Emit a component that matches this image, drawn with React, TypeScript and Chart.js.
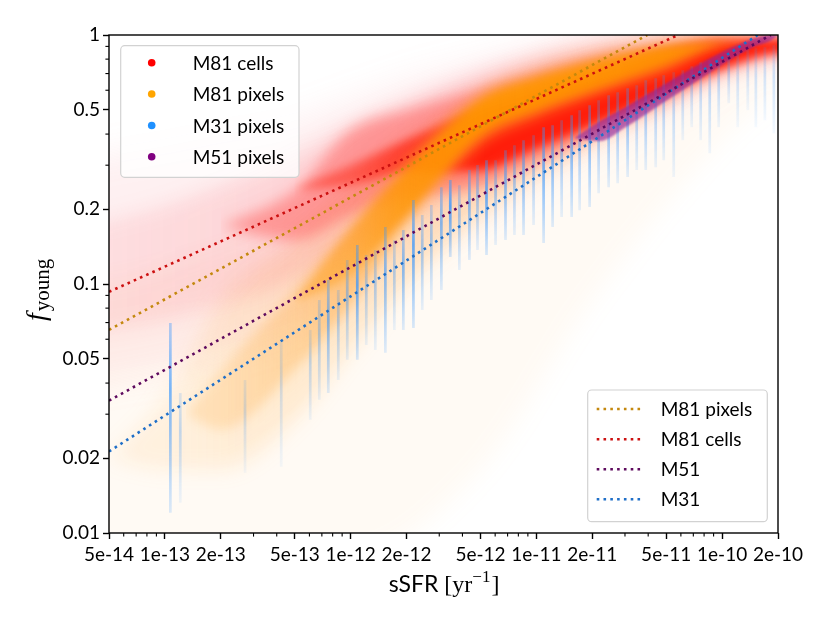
import React, { useEffect, useRef } from 'react';
import { Chart, registerables } from 'chart.js';

// ---------- axes ----------
const X_TICKS = [5e-14, 1e-13, 2e-13, 5e-13, 1e-12, 2e-12, 5e-12, 1e-11, 2e-11, 5e-11, 1e-10, 2e-10];
const X_TICK_LABELS = ['5e-14', '1e-13', '2e-13', '5e-13', '1e-12', '2e-12', '5e-12', '1e-11', '2e-11', '5e-11', '1e-10', '2e-10'];
const X_MINOR = [6e-14, 7e-14, 8e-14, 9e-14, 3e-13, 4e-13, 6e-13, 7e-13, 8e-13, 9e-13, 3e-12, 4e-12, 6e-12, 7e-12, 8e-12, 9e-12, 3e-11, 4e-11, 6e-11, 7e-11, 8e-11, 9e-11];
const Y_TICKS = [0.01, 0.02, 0.05, 0.1, 0.2, 0.5, 1];
const Y_TICK_LABELS = ['0.01', '0.02', '0.05', '0.1', '0.2', '0.5', '1'];
const Y_MINOR = [0.03, 0.04, 0.06, 0.07, 0.08, 0.09, 0.3, 0.4, 0.6, 0.7, 0.8, 0.9];

// ---------- fitted power laws (end points) ----------
const FIT_M81_PIXELS_X = [5e-14, 3.95e-11];
const FIT_M81_PIXELS_Y = [0.0654, 1];
const FIT_M81_CELLS_X = [5e-14, 5.8e-11];
const FIT_M81_CELLS_Y = [0.093, 1];
const FIT_M51_X = [5e-14, 1.83e-10];
const FIT_M51_Y = [0.034, 1];
const FIT_M31_X = [5e-14, 1.556e-10];
const FIT_M31_Y = [0.02125, 1];

// ---------- M81 cells density envelopes ----------
const CELLS_HALO_X = [3e-14, 5e-14, 1e-13, 2e-13, 5e-13, 1e-12, 2e-12, 5e-12, 1e-11, 2e-11, 5e-11, 1e-10, 2e-10, 3e-10];
const CELLS_HALO_HI = [0.3, 0.33, 0.36, 0.4, 0.455, 0.547, 0.658, 0.79, 0.909, 1.1, 1.2, 1.2, 1.2, 1.2];
const CELLS_HALO_LO = [0.038, 0.0412, 0.0452, 0.0519, 0.0654, 0.0863, 0.125, 0.189, 0.261, 0.345, 0.499, 0.658, 0.792, 0.8];
const CELLS_MID_X = [3e-14, 5e-14, 1e-13, 2e-13, 5e-13, 1e-12, 2e-12, 5e-12, 1e-11, 2e-11, 5e-11, 1e-10, 2e-10, 3e-10];
const CELLS_MID_HI = [0.17, 0.181, 0.2075, 0.2495, 0.33, 0.43, 0.54, 0.7, 0.81, 0.9, 0.97, 1.0, 1.0, 1.0];
const CELLS_MID_LO = [0.062, 0.0654, 0.0717, 0.0824, 0.104, 0.137, 0.189, 0.2495, 0.314, 0.396, 0.547, 0.708, 0.829, 0.85];
const CELLS_INNER_X = [2e-13, 5e-13, 1e-12, 2e-12, 5e-12, 1e-11, 2e-11, 5e-11, 1e-10, 2e-10, 3e-10];
const CELLS_INNER_HI = [0.17, 0.238, 0.415, 0.499, 0.6, 0.689, 0.792, 0.909, 0.97, 0.97, 0.97];
const CELLS_INNER_LO = [0.17, 0.15, 0.189, 0.2275, 0.2495, 0.314, 0.396, 0.547, 0.708, 0.829, 0.84];
const CELLS_CORE_X = [5e-13, 1e-12, 2e-12, 5e-12, 1e-11, 2e-11, 5e-11, 1e-10, 2e-10, 3e-10];
const CELLS_CORE_HI = [0.24, 0.3, 0.38, 0.499, 0.589, 0.689, 0.852, 0.952, 0.96, 0.96];
const CELLS_CORE_LO = [0.24, 0.25, 0.28, 0.287, 0.351, 0.434, 0.589, 0.735, 0.852, 0.86];

// ---------- M81 pixels density envelopes ----------
const PIX_WASH_X = [3e-14, 5e-14, 2e-13, 1e-12, 5e-12, 2e-11, 1e-10, 2e-10];
const PIX_WASH_HI = [0.1, 0.104, 0.137, 0.217, 0.455, 0.792, 0.988, 0.99];
const PIX_WASH_LO = [0.008, 0.008, 0.008, 0.008, 0.018, 0.0863, 0.378, 0.6];
const PIX_FAINT_X = [5e-14, 1e-13, 2e-13, 5e-13, 1e-12, 2e-12, 5e-12, 1e-11, 2e-11, 5e-11, 1e-10, 2e-10];
const PIX_FAINT_HI = [0.02, 0.035, 0.0863, 0.15, 0.2495, 0.378, 0.6, 0.756, 0.868, 0.97, 0.988, 0.99];
const PIX_FAINT_LO = [0.02, 0.018, 0.018, 0.0285, 0.0543, 0.0991, 0.189, 0.274, 0.378, 0.573, 0.777, 0.95];
const PIX_MID_X = [1.3e-13, 2e-13, 5e-13, 1e-12, 2e-12, 5e-12, 1e-11, 2e-11, 5e-11, 1e-10, 2e-10];
const PIX_MID_HI = [0.03, 0.045, 0.0946, 0.172, 0.314, 0.589, 0.708, 0.814, 0.926, 0.97, 0.97];
const PIX_MID_LO = [0.03, 0.026, 0.0452, 0.0824, 0.172, 0.361, 0.463, 0.5625, 0.708, 0.9, 0.97];
const PIX_CORE_X = [5e-13, 1e-12, 2e-12, 5e-12, 1e-11, 2e-11, 5e-11, 1e-10, 2e-10];
const PIX_CORE_HI = [0.085, 0.165, 0.287, 0.547, 0.67, 0.777, 0.9, 0.94, 0.96];
const PIX_CORE_LO = [0.085, 0.109, 0.189, 0.396, 0.499, 0.6, 0.76, 0.92, 0.96];

// ---------- M51 pixels ----------
const M51_X = [1.6e-11, 2.2e-11, 3e-11, 5e-11, 7e-11, 1e-10, 1.5e-10, 1.8e-10, 2e-10];
const M51_HI = [0.385, 0.45, 0.512, 0.64, 0.74, 0.855, 0.97, 1.0, 1.0];
const M51_LO = [0.385, 0.375, 0.425, 0.545, 0.64, 0.76, 0.9, 0.943, 1.0];

// ---------- M31 pixels: vertical streaks ----------
const M31_STREAK_X = [1.07e-13, 1.21e-13, 2.7e-13, 4.23e-13, 6.06e-13, 6.78e-13, 7.58e-13, 8.58e-13, 9.59e-13, 1.086e-12,
  1.214e-12, 1.358e-12, 1.538e-12, 1.719e-12, 1.922e-12, 2.178e-12, 2.43e-12, 2.72e-12, 3.08e-12, 3.44e-12,
  3.85e-12, 4.36e-12, 4.82e-12, 5.39e-12, 6.03e-12, 6.82e-12, 7.62e-12, 8.53e-12, 9.66e-12, 1.094e-11,
  1.223e-11, 1.368e-11, 1.549e-11, 1.71e-11, 1.936e-11, 2.164e-11, 2.45e-11, 2.74e-11, 3.1e-11, 3.47e-11,
  3.88e-11, 4.39e-11, 4.85e-11, 5.49e-11, 6.14e-11, 6.86e-11, 7.67e-11, 8.58e-11, 9.59e-11, 1.086e-10,
  1.214e-10, 1.375e-10, 1.52e-10, 1.7e-10, 1.9e-10];
const M31_STREAK_TOP = [0.0698, 0.0365, 0.0412, 0.0596, 0.0654, 0.0863, 0.1038, 0.0946, 0.1249, 0.1433,
  0.1307, 0.1369, 0.1693, 0.1501, 0.1646, 0.2173, 0.1891, 0.2075, 0.2449, 0.2614,
  0.2495, 0.2867, 0.3002, 0.3144, 0.3144, 0.3448, 0.3611, 0.3782, 0.396, 0.4264,
  0.4344, 0.4549, 0.4764, 0.4989, 0.5224, 0.547, 0.5729, 0.5889, 0.611, 0.6283,
  0.6579, 0.6701, 0.689, 0.7084, 0.7216, 0.749, 0.777, 0.7916, 0.806, 0.829,
  0.852, 0.868, 0.884, 0.893, 0.909];
const M31_STREAK_BOTTOM = [0.01205, 0.01324, 0.01746, 0.01845, 0.0285, 0.0343, 0.0365, 0.0412, 0.0496, 0.0496,
  0.0569, 0.0543, 0.0529, 0.0654, 0.0654, 0.0666, 0.0787, 0.0863, 0.0946, 0.1283,
  0.1138, 0.1249, 0.1369, 0.1307, 0.1433, 0.1501, 0.1572, 0.1572, 0.1724, 0.146,
  0.1693, 0.1856, 0.1856, 0.198, 0.2036, 0.2317, 0.2449, 0.2541, 0.2687, 0.2867,
  0.2867, 0.2946, 0.3144, 0.2687, 0.3782, 0.4264, 0.3782, 0.3353, 0.4264, 0.532,
  0.4264, 0.4989, 0.4264, 0.455, 0.4035];
const M31_STREAK_WEIGHT = [0.45, 0.2, 0.15, 0.15, 0.2, 0.25, 0.4, 0.25, 0.3, 0.5,
  0.25, 0.25, 0.4, 0.25, 0.4, 0.5, 0.3, 0.3, 0.4, 0.55,
  0.3, 0.4, 0.3, 0.5, 0.3, 0.4, 0.3, 0.4, 0.3, 0.45,
  0.4, 0.3, 0.4, 0.3, 0.4, 0.3, 0.35, 0.3, 0.35, 0.25,
  0.3, 0.25, 0.25, 0.2, 0.2, 0.2, 0.2, 0.2, 0.2, 0.2,
  0.15, 0.15, 0.15, 0.15, 0.15];

// ---------- legends ----------
const SCATTER_LABELS = ['M81 cells', 'M81 pixels', 'M31 pixels', 'M51 pixels'];
const SCATTER_COLORS = ['#ff0000', '#ffa500', '#1e90ff', '#800080'];
const FIT_LABELS = ['M81 pixels', 'M81 cells', 'M51', 'M31'];
const FIT_COLORS = ['#c4880e', '#cc1010', '#5e0a5e', '#1f6fc8'];

const blurPlugin = {
  id: 'bandBlur',
  beforeDatasetDraw(chart: any, args: any) {
    const ds = chart.data.datasets[args.index];
    if (ds && ds.blurPx) {
      chart.ctx.save();
      chart.ctx.filter = `blur(${ds.blurPx}px)`;
    }
  },
  afterDatasetDraw(chart: any, args: any) {
    const ds = chart.data.datasets[args.index];
    if (ds && ds.blurPx) chart.ctx.restore();
  },
};
Chart.register(blurPlugin);
Chart.register(...registerables);

const SANS = 'Lato, "DejaVu Sans", sans-serif';
const SERIF = '"Liberation Serif", "DejaVu Serif", serif';

const chromePlugin = {
  id: 'chrome',
  afterDraw(chart: any) {
    const { ctx, chartArea: a, scales } = chart;
    ctx.save();
    ctx.filter = 'none';
    ctx.strokeStyle = '#000';
    ctx.lineWidth = 1.4;
    ctx.strokeRect(a.left, a.top, a.right - a.left, a.bottom - a.top);
    ctx.lineWidth = 1.1;
    X_MINOR.forEach((v) => {
      const px = scales.x.getPixelForValue(v);
      ctx.beginPath();
      ctx.moveTo(px, a.bottom);
      ctx.lineTo(px, a.bottom + 3.6);
      ctx.stroke();
    });
    Y_MINOR.forEach((v) => {
      const py = scales.y.getPixelForValue(v);
      ctx.beginPath();
      ctx.moveTo(a.left, py);
      ctx.lineTo(a.left - 3.6, py);
      ctx.stroke();
    });

    const box = (x0: number, y0: number, x1: number, y1: number) => {
      ctx.beginPath();
      ctx.roundRect(x0, y0, x1 - x0, y1 - y0, 4);
      ctx.fillStyle = 'rgba(255,255,255,0.8)';
      ctx.fill();
      ctx.strokeStyle = '#d2d2d2';
      ctx.lineWidth = 1.2;
      ctx.stroke();
    };
    box(120.7, 45.7, 299, 177.3);
    const rows1 = [62.7, 94, 125.5, 156.7];
    ctx.font = `19px ${SANS}`;
    ctx.textBaseline = 'middle';
    ctx.textAlign = 'left';
    SCATTER_LABELS.forEach((lab, i) => {
      ctx.fillStyle = SCATTER_COLORS[i];
      ctx.beginPath();
      ctx.arc(151.7, rows1[i], 3.8, 0, Math.PI * 2);
      ctx.fill();
      ctx.fillStyle = '#000';
      ctx.fillText(lab, 192.7, rows1[i] + 1);
    });
    box(587.7, 390, 767.3, 521.7);
    const rows2 = [409, 439.3, 469.3, 499.3];
    FIT_LABELS.forEach((lab, i) => {
      ctx.strokeStyle = FIT_COLORS[i];
      ctx.lineWidth = 2.6;
      ctx.setLineDash([2.6, 4.2]);
      ctx.beginPath();
      ctx.moveTo(596.7, rows2[i]);
      ctx.lineTo(641, rows2[i]);
      ctx.stroke();
      ctx.setLineDash([]);
      ctx.fillStyle = '#000';
      ctx.fillText(lab, 660.7, rows2[i] + 1);
    });

    ctx.textBaseline = 'alphabetic';
    const p1 = 'sSFR ';
    const p2 = '[yr';
    const p3 = '\u22121';
    const p4 = ']';
    ctx.font = `23px ${SANS}`;
    const w1 = ctx.measureText(p1).width;
    ctx.font = `24px ${SERIF}`;
    const w2 = ctx.measureText(p2).width;
    const w4 = ctx.measureText(p4).width;
    ctx.font = `17px ${SERIF}`;
    const w3 = ctx.measureText(p3).width;
    const total = w1 + w2 + w3 + w4 + 1;
    let x = (a.left + a.right) / 2 + 0.5 - total / 2;
    const base = 592;
    ctx.fillStyle = '#000';
    ctx.font = `23px ${SANS}`;
    ctx.fillText(p1, x, base);
    x += w1;
    ctx.font = `24px ${SERIF}`;
    ctx.fillText(p2, x, base);
    x += w2;
    ctx.font = `17px ${SERIF}`;
    ctx.fillText(p3, x, base - 10);
    x += w3 + 1;
    ctx.font = `24px ${SERIF}`;
    ctx.fillText(p4, x, base);

    ctx.save();
    ctx.translate(45, 321);
    ctx.rotate(-Math.PI / 2);
    ctx.font = `italic 28px ${SERIF}`;
    ctx.fillText('f', 0, 0);
    const wf = ctx.measureText('f').width;
    ctx.font = `21px ${SERIF}`;
    ctx.fillText('young', wf + 2, 4);
    ctx.restore();

    ctx.restore();
  },
};

// horizontal opacity ramp for a band fill (style only)
const ramp = (rgb: string, stops: [number, number][]) => (c: any) => {
  const chart = c.chart;
  const a = chart.chartArea;
  const sx = chart.scales && chart.scales.x;
  if (!a || !sx) return `rgba(${rgb},${stops[0][1]})`;
  const g = chart.ctx.createLinearGradient(a.left, 0, a.right, 0);
  stops.forEach(([v, al]) => {
    const t = (sx.getPixelForValue(v) - a.left) / (a.right - a.left);
    g.addColorStop(Math.min(1, Math.max(0, t)), `rgba(${rgb},${al})`);
  });
  return g;
};

function buildDatasets() {
  const list: any[] = [];
  const band = (label: string, xs: number[], hi: number[], lo: number[], color: any, blur: number) => {
    list.push({
      label,
      data: xs.map((x, i) => ({ x, y: hi[i] })),
      borderWidth: 0,
      borderColor: 'rgba(0,0,0,0)',
      pointRadius: 0,
      fill: '+1',
      backgroundColor: color,
      cubicInterpolationMode: 'monotone',
      blurPx: blur,
    });
    list.push({
      label: label + ' lower',
      data: xs.map((x, i) => ({ x, y: lo[i] })),
      borderWidth: 0,
      borderColor: 'rgba(0,0,0,0)',
      pointRadius: 0,
      fill: false,
      cubicInterpolationMode: 'monotone',
    });
  };
  band('M81 pixels sparse', PIX_WASH_X, PIX_WASH_HI, PIX_WASH_LO, 'rgba(255,185,100,0.07)', 12);
  band('M81 cells halo', CELLS_HALO_X, CELLS_HALO_HI, CELLS_HALO_LO, 'rgba(245,120,130,0.11)', 16);
  band('M81 pixels faint', PIX_FAINT_X, PIX_FAINT_HI, PIX_FAINT_LO,
    ramp('255,170,60', [[1e-13, 0.12], [1e-12, 0.22], [1e-11, 0.3]]), 10);
  band('M81 cells mid', CELLS_MID_X, CELLS_MID_HI, CELLS_MID_LO,
    ramp('250,85,95', [[5e-14, 0.12], [1e-12, 0.2], [1e-11, 0.3]]), 10);
  band('M81 cells inner', CELLS_INNER_X, CELLS_INNER_HI, CELLS_INNER_LO, 'rgba(255,60,55,0.4)', 7);
  band('M81 cells core', CELLS_CORE_X, CELLS_CORE_HI, CELLS_CORE_LO,
    ramp('255,20,0', [[1e-12, 0.45], [5e-12, 0.9], [2e-10, 0.9]]), 5);
  band('M81 pixels mid', PIX_MID_X, PIX_MID_HI, PIX_MID_LO,
    ramp('255,160,40', [[2e-13, 0.2], [5e-13, 0.3], [2e-12, 0.55], [5e-11, 0.5], [2e-10, 0.3]]), 6);
  band('M81 pixels core', PIX_CORE_X, PIX_CORE_HI, PIX_CORE_LO,
    ramp('255,150,0', [[1e-12, 0.4], [2e-12, 0.75], [5e-12, 0.9], [5e-11, 0.85], [2e-10, 0.5]]), 4);

  const streakData: any[] = [];
  M31_STREAK_X.forEach((x, i) => {
    streakData.push({ x, y: M31_STREAK_TOP[i] });
    streakData.push({ x, y: M31_STREAK_BOTTOM[i] });
    streakData.push({ x, y: null });
  });
  list.push({
    label: 'M31 pixels',
    data: streakData,
    borderWidth: 2.7,
    borderColor: 'rgba(60,150,255,0.35)',
    pointRadius: 0,
    fill: false,
    spanGaps: false,
    tension: 0,
    segment: {
      borderColor: (c: any) => {
        const i = Math.floor(c.p0DataIndex / 3);
        const a = Math.min(1, (M31_STREAK_WEIGHT[i] ?? 0.2) * 1.5);
        const g = c.chart.ctx.createLinearGradient(0, c.p0.y, 0, c.p1.y + 0.01);
        g.addColorStop(0, `rgba(55,150,255,${a * 0.55})`);
        g.addColorStop(0.35, `rgba(55,150,255,${a})`);
        g.addColorStop(1, `rgba(55,150,255,${a * 0.25})`);
        return g;
      },
    },
  });

  band('M51 pixels', M51_X, M51_HI, M51_LO, 'rgba(140,35,160,0.62)', 1);

  const fit = (label: string, xs: number[], ys: number[], color: string) => {
    list.push({
      label,
      data: xs.map((x, i) => ({ x, y: ys[i] })),
      borderColor: color,
      borderWidth: 2.6,
      borderDash: [2.6, 4.2],
      borderCapStyle: 'butt',
      pointRadius: 0,
      fill: false,
      tension: 0,
    });
  };
  fit('M31 fit', FIT_M31_X, FIT_M31_Y, FIT_COLORS[3]);
  fit('M51 fit', FIT_M51_X, FIT_M51_Y, FIT_COLORS[2]);
  fit('M81 pixels fit', FIT_M81_PIXELS_X, FIT_M81_PIXELS_Y, FIT_COLORS[0]);
  fit('M81 cells fit', FIT_M81_CELLS_X, FIT_M81_CELLS_Y, FIT_COLORS[1]);

  const n = list.length;
  list.forEach((d, i) => {
    d.order = n - i;
  });
  return list;
}

export default function App() {
  const ref = useRef<HTMLCanvasElement | null>(null);
  useEffect(() => {
    if (!ref.current) return;
    const chart = new Chart(ref.current, {
      type: 'line',
      data: { datasets: buildDatasets() },
      options: {
        animation: false,
        responsive: false,
        maintainAspectRatio: false,
        events: [],
        layout: { padding: { top: 35, right: 52, left: 0, bottom: 0 } },
        plugins: { legend: { display: false }, tooltip: { enabled: false }, filler: { drawTime: 'beforeDatasetDraw' } },
        scales: {
          x: {
            type: 'logarithmic',
            min: 5e-14,
            max: 2e-10,
            afterBuildTicks: (s: any) => {
              s.ticks = X_TICKS.map((v) => ({ value: v }));
            },
            afterFit: (s: any) => {
              s.height = 91;
            },
            ticks: {
              callback: (_v: any, i: number) => X_TICK_LABELS[i],
              autoSkip: false,
              maxRotation: 0,
              minRotation: 0,
              font: { family: SANS, size: 19 },
              color: '#000',
              padding: 4,
            },
            grid: { drawOnChartArea: false, tickLength: 6, tickColor: '#000', tickWidth: 1.4 },
            border: { display: false },
          },
          y: {
            type: 'logarithmic',
            min: 0.01,
            max: 1,
            afterBuildTicks: (s: any) => {
              s.ticks = Y_TICKS.map((v) => ({ value: v }));
            },
            afterFit: (s: any) => {
              s.width = 109;
            },
            ticks: {
              callback: (_v: any, i: number) => Y_TICK_LABELS[i],
              autoSkip: false,
              font: { family: SANS, size: 19 },
              color: '#000',
              padding: 3,
            },
            grid: { drawOnChartArea: false, tickLength: 6, tickColor: '#000', tickWidth: 1.4 },
            border: { display: false },
          },
        },
      } as any,
      plugins: [chromePlugin],
    });
    return () => chart.destroy();
  }, []);
  return (
    <div style={{ position: 'absolute', left: 0, top: 0, width: 830, height: 624, background: '#fff' }}>
      <canvas ref={ref} width={830} height={624} style={{ width: 830, height: 624, display: 'block' }} />
    </div>
  );
}
